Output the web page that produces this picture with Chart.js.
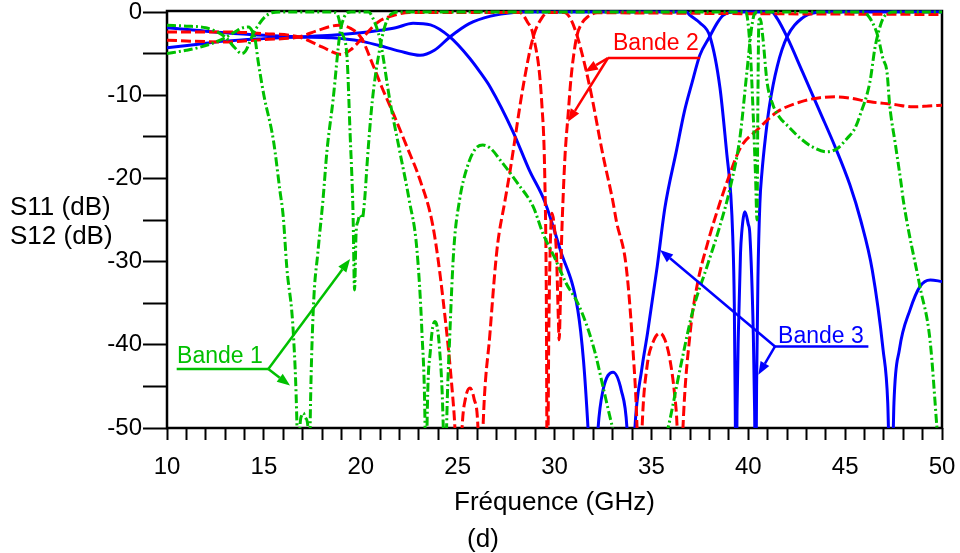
<!DOCTYPE html>
<html>
<head>
<meta charset="utf-8">
<script src="https://cdn.jsdelivr.net/npm/chart.js@4.4.1/dist/chart.umd.min.js"></script>
<style>
  html, body { margin: 0; padding: 0; background: #fff; }
  #wrap { width: 960px; height: 553px; }
</style>
</head>
<body>
<div id="wrap"><canvas id="graph" width="960" height="553"></canvas></div>
<script>
// Bande 3 (blue, solid)
const b3S11Freq = [10, 11.5, 13, 15, 16.8, 18.5, 20, 20.9, 22, 23.06, 23.8, 24.6, 25.6, 26.7, 27.9, 28.5, 36.8, 37.0, 37.5, 38.03, 38.54, 38.9, 39.1, 39.2, 39.28, 39.33, 39.37, 39.42, 39.49, 39.6, 39.66, 39.83, 40.0, 40.08, 40.26, 40.33, 40.38, 40.43, 40.5, 40.6, 40.71, 40.9, 41.1, 41.5, 42.0, 42.8, 43.5, 44, 50];
const b3S11dB = [-1.9, -2.2, -2.5, -2.8, -3.0, -3.1, -3.5, -4.0, -4.7, -5.2, -4.6, -3.0, -1.4, -0.5, -0.05, 0, 0, -0.4, -1.3, -3.0, -9.1, -17.2, -22, -27, -35, -48, -62, -48, -38.6, -29, -26.6, -24, -25.5, -26.6, -38.6, -48, -62, -45, -32, -23, -19.2, -14.8, -11.2, -6.5, -3.0, -0.7, -0.05, 0, 0];

const b3S12Freq = [10, 11.5, 13, 15, 16.8, 18.5, 20, 21, 21.8, 22.7, 23.6, 24.6, 25.6, 26.15, 26.7, 27.86, 28.7, 29.5, 30.3, 31.2, 31.5, 31.73, 32.0, 32.25, 32.5, 33.02, 33.45, 33.74, 33.95, 34.15, 34.5, 34.8, 35.3, 35.7, 36.3, 36.7, 37.1, 37.5, 38.0, 38.4, 38.7, 39.2, 41.2, 41.5, 42.0, 42.8, 43.7, 44.5, 45.25, 45.8, 46.4, 46.96, 47.2, 47.37, 47.52, 47.8, 48.35, 48.86, 49.4, 50];
const b3S12dB = [-4.3, -3.9, -3.5, -3.2, -3.0, -2.8, -2.5, -2.2, -1.9, -1.35, -1.55, -3.0, -5.5, -7.2, -9.1, -14.4, -19, -22.8, -28.6, -35.8, -42, -50, -62, -50, -45.5, -43.3, -45.5, -50, -62, -50, -43, -38.6, -30.6, -23.5, -16.6, -12, -8.5, -5.2, -3.0, -1.3, -0.4, 0, 0, -0.8, -3.0, -7.2, -12, -16.3, -20.8, -25, -31, -40.6, -47, -62, -47, -40.6, -35.8, -33.0, -32.2, -32.4];

// Bande 2 (red, dashed)
const b2S12Freq = [10, 13, 15, 16.8, 17.8, 18.84, 19.5, 20.05, 20.6, 21.1, 21.66, 22.4, 23.06, 23.73, 24.25, 24.76, 24.86, 25.05, 25.23, 25.4, 25.64, 25.85, 26.05, 26.18, 26.31, 26.67, 27.03, 27.45, 27.7, 28.37, 28.89, 29.35, 29.7, 30.5, 30.8, 31.16, 31.83, 32.5, 33.0, 33.2, 33.7, 34.05, 34.26, 34.38, 34.52, 34.77, 35.1, 35.45, 35.7, 35.96, 36.2, 36.33, 36.47, 36.63, 37.0, 37.35, 37.9, 38.5, 39.0, 39.6, 40.45, 41.5, 42.7, 43.7, 44.5, 45.1, 46.3, 47.5, 48.5, 49.3, 50];
const b2S12dB = [-3.4, -3.6, -3.3, -3.0, -2.2, -1.6, -2.0, -3.2, -6.2, -9.1, -12.1, -16.3, -20.2, -25.8, -34.6, -46.6, -50, -62, -50, -46.5, -45.2, -46.5, -50, -62, -50, -38.6, -28.6, -22.6, -19.2, -9.1, -3.1, -0.7, -0.05, -0.05, -0.7, -2.8, -9.1, -17.2, -22.6, -25.2, -30.6, -40.6, -50, -62, -50, -42.7, -39.6, -38.6, -39.4, -41.8, -46, -50, -62, -50, -38.6, -33, -27.8, -23.2, -19.8, -16.3, -14.2, -12, -10.8, -10.3, -10.2, -10.3, -10.8, -11.1, -11.4, -11.3, -11.2];

const b2S11Freq = [10, 13, 15, 16.8, 18.0, 19.0, 19.5, 20.05, 20.9, 21.8, 22.5, 28.2, 28.6, 28.9, 29.35, 29.5, 29.58, 29.63, 29.7, 29.77, 29.87, 30.0, 30.1, 30.2, 30.24, 30.3, 30.36, 30.45, 30.55, 30.7, 30.85, 31.0, 31.16, 31.4, 31.7, 32.2, 40, 50];
const b2S11dB = [-2.4, -2.4, -2.6, -3.0, -4.2, -5.1, -4.5, -3.2, -1.2, -0.35, -0.05, -0.05, -1.2, -2.8, -11.2, -20, -35, -62, -40, -29.2, -24.2, -26, -29, -37, -39.4, -35, -28, -22, -17, -12.4, -8, -5, -2.8, -1.4, -0.6, -0.1, -0.2, -0.3];

// Bande 1 (green, dash-dot)
const b1AFreq = [10, 11, 12, 13, 13.5, 13.85, 14.05, 14.2, 14.45, 14.71, 15.05, 15.4, 16, 18.5, 18.77, 19.03, 19.29, 19.45, 19.6, 19.68, 19.76, 19.85, 19.96, 20.08, 20.2, 20.35, 20.6, 21.0, 21.35, 21.7, 22, 39.85, 39.95, 40.1, 40.25, 40.38, 40.45, 40.5, 40.55, 40.62, 40.75, 40.97, 41.28, 41.6, 42.0, 42.7, 43.3, 44.06, 44.6, 45.1, 45.5, 45.77, 46.28, 46.54, 46.7, 46.95, 47.2, 47.5, 50];
const b1AdB = [-1.6, -1.7, -1.9, -3.0, -4.3, -5.0, -4.7, -4.0, -2.6, -1.6, -0.6, -0.1, 0, 0, -0.2, -2.5, -5.4, -14.6, -24, -33.4, -26.5, -25.2, -24.4, -24.8, -22.6, -17.5, -10.6, -4.2, -1.0, -0.1, 0, 0, -0.6, -4.5, -12, -20, -25, -10, -1.0, -0.8, -3, -8.4, -11.2, -12.6, -13.6, -15.2, -16.2, -16.8, -16.4, -15.2, -14, -12.4, -8.4, -4.3, -2.6, -0.8, -0.2, 0, 0];

const b1BFreq = [10, 11, 11.6, 12.3, 13, 13.5, 13.9, 14.2, 14.4, 14.54, 14.71, 15.0, 15.49, 15.83, 16.0, 16.18, 16.52, 16.71, 16.78, 16.86, 16.95, 17.04, 17.15, 17.28, 17.33, 17.4, 17.55, 17.8, 18.05, 18.26, 18.57, 18.93, 19.15, 19.3, 19.5, 20.4, 20.6, 21.0, 21.5, 22.0, 22.5, 22.9, 23.16, 23.32, 23.37, 23.42, 23.6, 23.83, 24.05, 24.26, 24.35, 24.43, 24.6, 24.8, 25.1, 25.5, 25.9, 26.3, 26.7, 27.2, 28.1, 28.9, 29.4, 30.0, 30.6, 31.2, 31.7, 32.1, 32.5, 33.0, 34.4, 35.86, 36.5, 37.15, 37.87, 38.5, 39.06, 39.57, 39.93, 40.19, 40.35, 40.5, 46.0, 46.1, 46.4, 46.7, 46.95, 47.16, 47.3, 47.6, 47.9, 48.0, 48.86, 49.38, 49.74, 50];
const b1BdB = [-5.0, -4.6, -4.3, -3.8, -3.1, -2.4, -1.9, -1.8, -2.3, -3.2, -6.0, -10, -15.4, -21.5, -24.6, -30.6, -38.6, -50, -60, -50, -48.5, -48.2, -48.8, -50, -60, -48, -35.8, -28.6, -22.6, -16.6, -10.6, -2.5, -0.6, -0.1, 0, 0, -0.6, -3.4, -10.6, -16.6, -22.6, -28.6, -38.6, -50, -62, -50, -40.5, -37.2, -40, -50, -62, -50, -38.6, -28.6, -22.6, -18.6, -16.5, -16, -16.4, -17.8, -20.6, -23.4, -26.6, -29.5, -32.6, -35, -37.9, -41, -45, -50, -62, -50, -42.7, -35.8, -30.6, -26, -21.2, -15.1, -7.2, -1.6, -0.1, 0, 0, -0.2, -1.2, -3.0, -5.6, -7.2, -11.2, -16, -20.8, -22.6, -33, -39.4, -50, -58];

const xTicks = [10, 15, 20, 25, 30, 35, 40, 45, 50];
const yTicks = [0, -10, -20, -30, -40, -50];

const GREEN = '#00c000';
const RED = '#ff0000';
const BLUE = '#0000ff';
const FONT = '"Liberation Sans", Arial, sans-serif';

// callouts, positioned in data units (GHz, dB)
const callouts = [
  { text: 'Bande 1', color: GREEN, at: [10.52, -42.2], line: [10.5, 15.23, -42.9],
    from: [15.23, -42.9], tips: [[19.45, -29.7], [16.35, -44.9]] },
  { text: 'Bande 2', color: RED, at: [33.02, -4.6], line: [32.76, 37.51, -5.53],
    from: [32.76, -5.53], tips: [[31.57, -7.2], [30.7, -13.2]] },
  { text: 'Bande 3', color: BLUE, at: [41.54, -39.8], line: [41.38, 46.2, -40.2],
    from: [41.38, -40.2], tips: [[35.45, -28.6], [40.52, -43.6]] }
];

function pts(freq, db) {
  return freq.map((f, i) => ({ x: f, y: db[i] }));
}

function curve(freq, db, color, dash) {
  return {
    data: pts(freq, db),
    borderColor: color,
    borderWidth: 3,
    borderDash: dash,
    pointRadius: 0,
    fill: false,
    cubicInterpolationMode: 'monotone',
    clip: { left: 0, top: 4, right: 0, bottom: 0 }
  };
}

function arrow(ctx, x0, y0, x1, y1) {
  const a = Math.atan2(y1 - y0, x1 - x0);
  const len = 13, hw = 5;
  const bx = x1 - len * Math.cos(a), by = y1 - len * Math.sin(a);
  ctx.beginPath();
  ctx.moveTo(x0, y0);
  ctx.lineTo(bx, by);
  ctx.stroke();
  ctx.beginPath();
  ctx.moveTo(x1, y1);
  ctx.lineTo(bx + hw * Math.sin(a), by - hw * Math.cos(a));
  ctx.lineTo(bx - hw * Math.sin(a), by + hw * Math.cos(a));
  ctx.closePath();
  ctx.fill();
}

// no label overflow padding, so the plot box lands where the reference has it
function noPad(s) {
  s.paddingLeft = 0;
  s.paddingRight = 0;
  s.paddingTop = 0;
  s.paddingBottom = 0;
}

const overlay = {
  id: 'overlay',
  beforeDatasetsDraw(chart) {
    const { ctx, chartArea: a } = chart;
    ctx.save();
    ctx.strokeStyle = '#000';
    ctx.lineWidth = 2.5;
    ctx.strokeRect(a.left, a.top - 1, a.right - a.left, a.bottom - a.top + 1);
    ctx.restore();
  },
  afterDatasetsDraw(chart) {
    const { ctx } = chart;
    const xs = chart.scales.x, ys = chart.scales.y;
    ctx.save();
    callouts.forEach(c => {
      ctx.fillStyle = c.color;
      ctx.strokeStyle = c.color;
      ctx.lineWidth = 2.5;
      ctx.font = '23px ' + FONT;
      ctx.textAlign = 'left';
      ctx.textBaseline = 'alphabetic';
      ctx.fillText(c.text, xs.getPixelForValue(c.at[0]), ys.getPixelForValue(c.at[1]));
      const ly = ys.getPixelForValue(c.line[2]);
      ctx.beginPath();
      ctx.moveTo(xs.getPixelForValue(c.line[0]), ly);
      ctx.lineTo(xs.getPixelForValue(c.line[1]), ly);
      ctx.stroke();
      const fx = xs.getPixelForValue(c.from[0]), fy = ys.getPixelForValue(c.from[1]);
      c.tips.forEach(t => arrow(ctx, fx, fy, xs.getPixelForValue(t[0]), ys.getPixelForValue(t[1])));
    });
    ctx.restore();
  },
  afterDraw(chart) {
    const { ctx, chartArea: a } = chart;
    ctx.save();
    ctx.fillStyle = '#000';
    ctx.font = '26px ' + FONT;
    ctx.textBaseline = 'middle';
    ctx.textAlign = 'center';
    ctx.fillText('Fréquence (GHz)', (a.left + a.right) / 2, 503);
    ctx.fillText('(d)', 483, 540);
    ctx.textAlign = 'left';
    ctx.fillText('S11 (dB)', 10, 208);
    ctx.fillText('S12 (dB)', 10, 237);
    ctx.restore();
  }
};

new Chart(document.getElementById('graph').getContext('2d'), {
  type: 'line',
  data: {
    datasets: [
      curve(b1AFreq, b1AdB, GREEN, [9, 3, 2, 3]),
      curve(b1BFreq, b1BdB, GREEN, [9, 3, 2, 3]),
      curve(b2S11Freq, b2S11dB, RED, [10, 4]),
      curve(b2S12Freq, b2S12dB, RED, [10, 4]),
      curve(b3S11Freq, b3S11dB, BLUE, []),
      curve(b3S12Freq, b3S12dB, BLUE, [])
    ]
  },
  options: {
    responsive: false,
    animation: false,
    devicePixelRatio: 1,
    layout: { autoPadding: false, padding: { left: 0, top: 12, right: 18, bottom: 0 } },
    plugins: { legend: { display: false }, tooltip: { enabled: false } },
    scales: {
      x: {
        type: 'linear',
        min: 10,
        max: 50,
        afterFit: s => { s.height = 125; noPad(s); },
        border: { display: false },
        grid: { drawOnChartArea: false, drawTicks: true, tickLength: 12, tickWidth: 2, tickColor: '#000' },
        ticks: {
          stepSize: 1,
          autoSkip: false,
          maxRotation: 0,
          padding: 13,
          color: '#000',
          font: { family: FONT, size: 24 },
          callback: v => xTicks.includes(v) ? String(v) : ''
        }
      },
      y: {
        min: -50,
        max: 0,
        afterFit: s => { s.width = 167; noPad(s); },
        border: { display: false },
        grid: { drawOnChartArea: false, drawTicks: true, tickLength: 24, tickWidth: 2, tickColor: '#000' },
        ticks: {
          stepSize: 5,
          autoSkip: false,
          padding: 1,
          color: '#000',
          font: { family: FONT, size: 24 },
          callback: v => yTicks.includes(v) ? String(v) : ''
        }
      }
    }
  },
  plugins: [overlay]
});
</script>
</body>
</html>
